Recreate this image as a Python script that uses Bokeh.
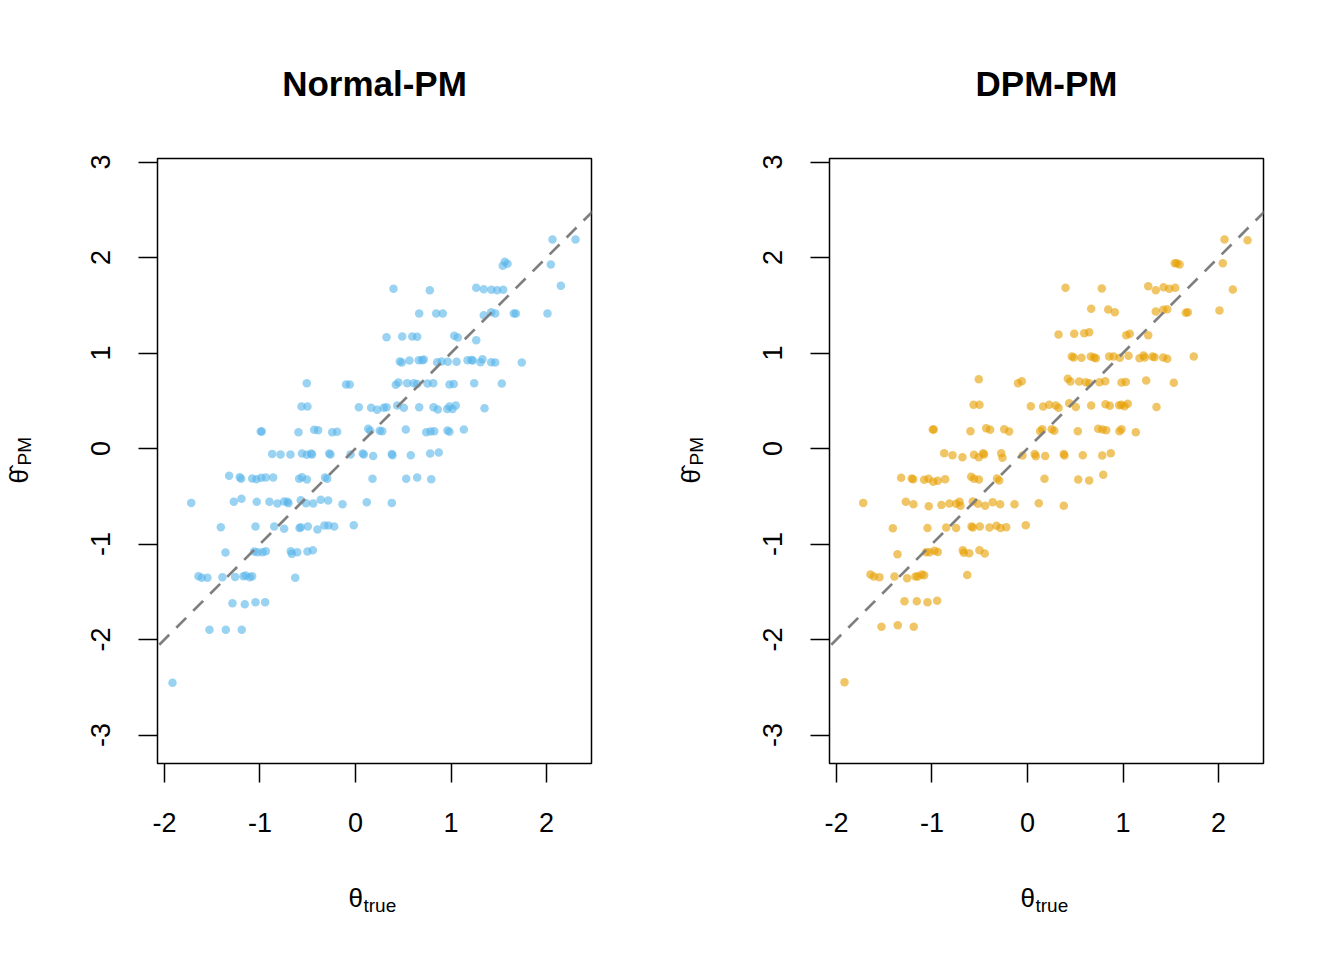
import math
from bokeh.plotting import figure
from bokeh.models import Range1d, FixedTicker, Label, Slope
from bokeh.layouts import row
from bokeh.embed import file_html
from bokeh.resources import INLINE

# ---------------- data ----------------
panel_titles = ["Normal-PM", "DPM-PM"]
x_ticks = [-2, -1, 0, 1, 2]
x_tick_labels = ["-2", "-1", "0", "1", "2"]
y_ticks = [-3, -2, -1, 0, 1, 2, 3]
y_tick_labels = ["-3", "-2", "-1", "0", "1", "2", "3"]

theta_true = [
    2.063, 2.304,
    1.563, 1.542, 1.592, 2.045, 2.150,
    0.398, 0.778, 1.264, 1.343, 1.424, 1.484, 1.547,
    0.667, 0.845, 0.914, 1.343, 1.421, 1.463, 1.658, 1.679, 2.010,
    0.325, 0.489, 0.594, 0.646, 1.034, 1.071, 1.264,
    0.464, 0.485, 0.565, 0.663, 0.698, 0.715, 0.855, 0.901, 0.966, 1.058, 1.173, 1.215, 1.228, 1.309, 1.330, 1.421, 1.463, 1.741,
    -0.510, -0.099, -0.060, 0.422, 0.450, 0.541, 0.610, 0.646, 0.754, 0.814, 0.984, 1.029, 1.243, 1.532,
    -0.565, -0.503, 0.035, 0.164, 0.227, 0.296, 0.325, 0.437, 0.506, 0.667, 0.817, 0.862, 0.960, 0.984, 1.016, 1.050, 1.351,
    -0.992, -0.981, -0.597, -0.432, -0.391, -0.244, -0.192, 0.133, 0.154, 0.254, 0.280, 0.527, 0.740, 0.785, 0.824, 0.963, 0.984, 1.134,
    -0.872, -0.785, -0.681, -0.560, -0.510, -0.464, -0.455, -0.275, -0.262, -0.052, 0.076, 0.087, 0.185, 0.380, 0.387, 0.579, 0.782, 0.872,
    -1.323, -1.212, -1.197, -1.082, -1.037, -0.987, -0.939, -0.862, -0.590, -0.560, -0.508, -0.319, -0.296, 0.178, 0.531, 0.646, 0.793,
    -1.720, -1.274, -1.194, -1.034, -0.901, -0.817, -0.747, -0.712, -0.702, -0.573, -0.518, -0.443, -0.364, -0.286, -0.136, 0.118, 0.380,
    -1.410, -1.047, -0.851, -0.747, -0.586, -0.573, -0.499, -0.398, -0.325, -0.283, -0.223, -0.018,
    -1.361, -1.061, -1.026, -0.974, -0.939, -0.677, -0.667, -0.610, -0.503, -0.447,
    -1.644, -1.609, -1.550, -1.393, -1.260, -1.173, -1.149, -1.107, -1.082, -0.631,
    -1.288, -1.159, -1.047, -0.946,
    -1.529, -1.358, -1.191,
    -1.916,
]

theta_normal_pm = [
    2.19, 2.19,
    1.955, 1.913, 1.934, 1.927, 1.704,
    1.672, 1.658, 1.683, 1.668, 1.662, 1.658, 1.662,
    1.414, 1.414, 1.414, 1.396, 1.427, 1.414, 1.414, 1.414, 1.414,
    1.165, 1.173, 1.173, 1.170, 1.180, 1.162, 1.134,
    0.911, 0.901, 0.921, 0.925, 0.925, 0.932, 0.904, 0.911, 0.908, 0.908, 0.925, 0.928, 0.921, 0.904, 0.935, 0.904, 0.901, 0.901,
    0.684, 0.670, 0.670, 0.667, 0.691, 0.684, 0.684, 0.677, 0.681, 0.684, 0.670, 0.677, 0.684, 0.681,
    0.440, 0.440, 0.432, 0.426, 0.405, 0.426, 0.432, 0.450, 0.426, 0.432, 0.432, 0.408, 0.415, 0.440, 0.415, 0.450, 0.422,
    0.178, 0.178, 0.171, 0.196, 0.192, 0.171, 0.175, 0.206, 0.185, 0.185, 0.181, 0.199, 0.171, 0.178, 0.181, 0.188, 0.175, 0.199,
    -0.056, -0.063, -0.063, -0.052, -0.066, -0.052, -0.063, -0.052, -0.063, -0.063, -0.052, -0.063, -0.077, -0.056, -0.070, -0.070, -0.052, -0.042,
    -0.286, -0.300, -0.317, -0.314, -0.321, -0.307, -0.304, -0.304, -0.317, -0.300, -0.325, -0.304, -0.317, -0.317, -0.317, -0.304, -0.321,
    -0.569, -0.558, -0.527, -0.558, -0.558, -0.576, -0.555, -0.558, -0.572, -0.541, -0.572, -0.576, -0.537, -0.545, -0.583, -0.562, -0.569,
    -0.824, -0.817, -0.817, -0.841, -0.831, -0.824, -0.817, -0.848, -0.806, -0.806, -0.817, -0.803,
    -1.089, -1.079, -1.086, -1.086, -1.075, -1.075, -1.103, -1.086, -1.079, -1.065,
    -1.337, -1.354, -1.354, -1.348, -1.344, -1.337, -1.330, -1.348, -1.337, -1.354,
    -1.620, -1.630, -1.609, -1.609,
    -1.898, -1.898, -1.898,
    -2.453,
]

theta_dpm_pm = [
    2.19, 2.18,
    1.94, 1.94, 1.927, 1.94, 1.665,
    1.683, 1.675, 1.699, 1.658, 1.689, 1.672, 1.683,
    1.463, 1.455, 1.427, 1.435, 1.452, 1.459, 1.421, 1.427, 1.445,
    1.194, 1.201, 1.207, 1.218, 1.186, 1.201, 1.186,
    0.963, 0.953, 0.950, 0.963, 0.953, 0.946, 0.963, 0.963, 0.950, 0.971, 0.946, 0.974, 0.953, 0.963, 0.956, 0.953, 0.939, 0.963,
    0.726, 0.684, 0.705, 0.730, 0.702, 0.702, 0.694, 0.684, 0.694, 0.705, 0.691, 0.698, 0.712, 0.688,
    0.458, 0.458, 0.443, 0.440, 0.458, 0.450, 0.426, 0.474, 0.436, 0.450, 0.464, 0.447, 0.453, 0.458, 0.443, 0.468, 0.436,
    0.199, 0.199, 0.181, 0.213, 0.196, 0.202, 0.178, 0.181, 0.202, 0.202, 0.185, 0.181, 0.206, 0.199, 0.192, 0.181, 0.202, 0.171,
    -0.049, -0.070, -0.091, -0.066, -0.091, -0.049, -0.063, -0.049, -0.097, -0.073, -0.056, -0.081, -0.077, -0.056, -0.073, -0.070, -0.073, -0.049,
    -0.307, -0.314, -0.321, -0.328, -0.317, -0.349, -0.338, -0.321, -0.296, -0.317, -0.325, -0.314, -0.335, -0.317, -0.325, -0.335, -0.275,
    -0.569, -0.558, -0.583, -0.604, -0.590, -0.576, -0.579, -0.558, -0.600, -0.555, -0.579, -0.600, -0.562, -0.583, -0.583, -0.572, -0.600,
    -0.835, -0.831, -0.827, -0.831, -0.817, -0.827, -0.817, -0.827, -0.809, -0.831, -0.824, -0.803,
    -1.107, -1.086, -1.086, -1.071, -1.084, -1.065, -1.092, -1.096, -1.065, -1.099,
    -1.319, -1.340, -1.348, -1.340, -1.358, -1.340, -1.340, -1.319, -1.327, -1.323,
    -1.599, -1.599, -1.609, -1.595,
    -1.867, -1.850, -1.867,
    -2.447,
]

point_colors = ["#56B4E9", "#E69F00"]

# ---------------- drawing ----------------
FONT = "Liberation Sans"


def side_label(text, x, y, size, angle=0.0):
    return Label(x=x, y=y, x_units="screen", y_units="screen", text=text,
                 angle=angle, text_align="left", text_baseline="alphabetic",
                 text_font=FONT, text_font_size=size, text_color="black")


def make_panel(title, yvals, color, border_right):
    p = figure(frame_width=434, frame_height=605,
               min_border_left=157, min_border_right=border_right,
               min_border_top=158, min_border_bottom=181,
               x_range=Range1d(-2.073, 2.471), y_range=Range1d(-3.298, 3.037),
               output_backend="svg", toolbar_location=None)
    p.grid.visible = False
    p.outline_line_color = "black"
    p.outline_line_width = 1.5
    p.outline_line_alpha = 1.0
    p.background_fill_color = "white"
    p.border_fill_color = "white"

    p.title.text = title
    p.title.align = "center"
    p.title.vertical_align = "top"
    p.title.text_font = FONT
    p.title.text_font_style = "bold"
    p.title.text_font_size = "35px"
    p.title.text_color = "black"
    p.title.standoff = 108

    for ax in (p.xaxis[0], p.yaxis[0]):
        ax.axis_line_color = None
        ax.major_tick_in = 0
        ax.major_tick_out = 19
        ax.major_tick_line_width = 1.5
        ax.major_tick_line_color = "black"
        ax.minor_tick_line_color = None
        ax.major_label_text_font = FONT
        ax.major_label_text_font_size = "27px"
        ax.major_label_text_color = "black"

    p.xaxis.ticker = FixedTicker(ticks=x_ticks)
    p.xaxis.major_label_overrides = {t: l for t, l in zip(x_ticks, x_tick_labels)}
    p.yaxis.ticker = FixedTicker(ticks=y_ticks)
    p.yaxis.major_label_overrides = {t: l for t, l in zip(y_ticks, y_tick_labels)}
    p.yaxis.major_label_orientation = "vertical"
    p.xaxis.major_label_standoff = 30
    p.yaxis.major_label_standoff = 28

    n = min(len(theta_true), len(yvals))
    p.scatter(theta_true[:n], yvals[:n], size=8.5, fill_color=color,
              fill_alpha=0.6, line_color=None)

    p.add_layout(Slope(gradient=1, y_intercept=0, line_color="#7f7f7f",
                       line_width=2.7, line_dash="14 10"))

    # x axis label  θ_true (two labels in the bottom panel)
    p.add_layout(side_label("θ", 191, -33, "26px"), "below")
    p.add_layout(side_label("true", 206, -20, "19px"), "below")
    # y axis label  θ̂_PM (rotated, in the left panel)
    p.add_layout(side_label("θ\u0302", -40, 280, "26px", math.pi / 2), "left")
    p.add_layout(side_label("PM", -13, 298, "19px", math.pi / 2), "left")
    return p


p1 = make_panel(panel_titles[0], theta_normal_pm, point_colors[0], 81)
p2 = make_panel(panel_titles[1], theta_dpm_pm, point_colors[1], 77)

layout = row(p1, p2)
open("out.html", "w").write(file_html(layout, INLINE))
